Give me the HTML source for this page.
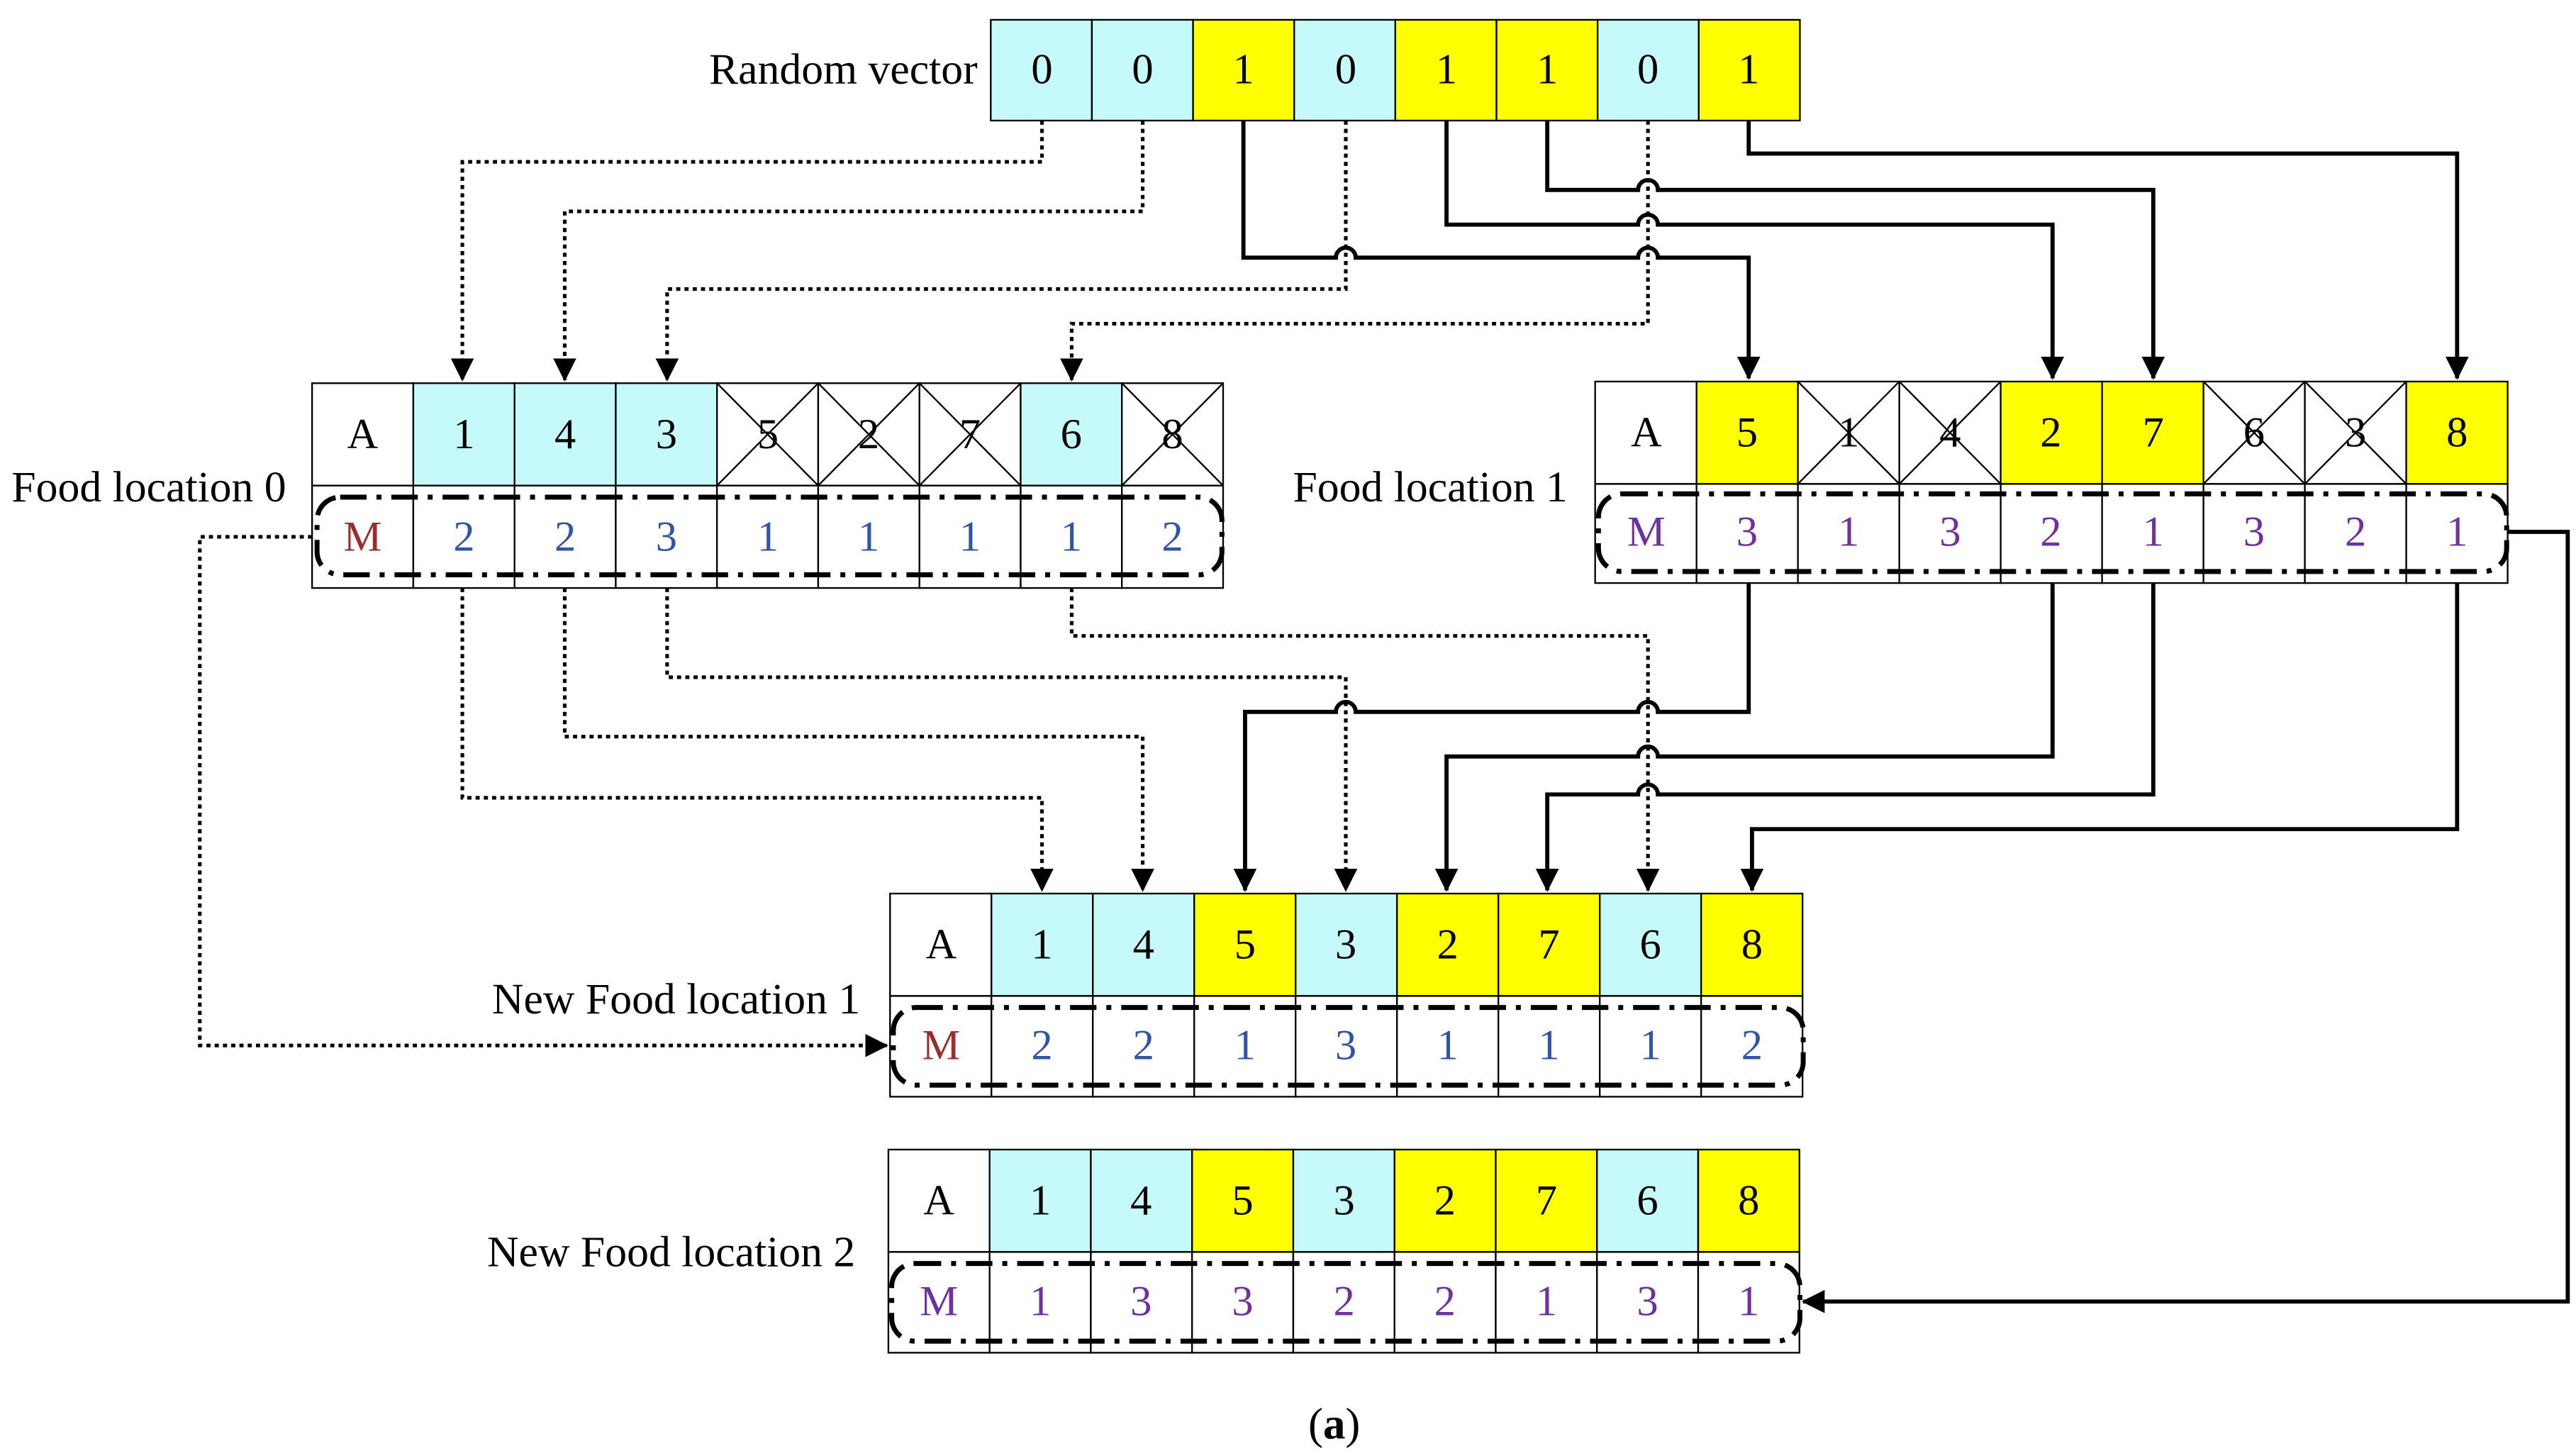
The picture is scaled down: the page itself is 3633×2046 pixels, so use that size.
<!DOCTYPE html>
<html><head><meta charset="utf-8"><style>html,body{margin:0;padding:0;background:#fff}svg{display:block}</style></head><body>
<svg width="3633" height="2046" viewBox="0 0 1560 878.5" preserveAspectRatio="none" xmlns="http://www.w3.org/2000/svg" font-family="Liberation Serif, serif">
<defs>
<marker id="ar" markerUnits="userSpaceOnUse" markerWidth="14" markerHeight="16" refX="13" refY="7" orient="auto"><path d="M0,0 L14,7 L0,14 Z" fill="#000"/></marker>
</defs>
<g stroke="#000" stroke-width="1">
<rect x="600" y="12" width="61.25" height="61" fill="#c6f9f9"/>
<rect x="661.25" y="12" width="61.25" height="61" fill="#c6f9f9"/>
<rect x="722.5" y="12" width="61.25" height="61" fill="#ffff00"/>
<rect x="783.75" y="12" width="61.25" height="61" fill="#c6f9f9"/>
<rect x="845" y="12" width="61.25" height="61" fill="#ffff00"/>
<rect x="906.25" y="12" width="61.25" height="61" fill="#ffff00"/>
<rect x="967.5" y="12" width="61.25" height="61" fill="#c6f9f9"/>
<rect x="1028.75" y="12" width="61.25" height="61" fill="#ffff00"/>
<rect x="189" y="232" width="61.3" height="62" fill="#fff"/>
<rect x="250.3" y="232" width="61.3" height="62" fill="#c6f9f9"/>
<rect x="311.6" y="232" width="61.3" height="62" fill="#c6f9f9"/>
<rect x="372.9" y="232" width="61.3" height="62" fill="#c6f9f9"/>
<rect x="434.2" y="232" width="61.3" height="62" fill="#fff"/>
<rect x="495.5" y="232" width="61.3" height="62" fill="#fff"/>
<rect x="556.8" y="232" width="61.3" height="62" fill="#fff"/>
<rect x="618.1" y="232" width="61.3" height="62" fill="#c6f9f9"/>
<rect x="679.4" y="232" width="61.3" height="62" fill="#fff"/>
<path d="M434.2,232 L495.5,294 M495.5,232 L434.2,294 M495.5,232 L556.8,294 M556.8,232 L495.5,294 M556.8,232 L618.1,294 M618.1,232 L556.8,294 M679.4,232 L740.7,294 M740.7,232 L679.4,294"/>
<rect x="189" y="294" width="61.3" height="62" fill="#fff"/>
<rect x="250.3" y="294" width="61.3" height="62" fill="#fff"/>
<rect x="311.6" y="294" width="61.3" height="62" fill="#fff"/>
<rect x="372.9" y="294" width="61.3" height="62" fill="#fff"/>
<rect x="434.2" y="294" width="61.3" height="62" fill="#fff"/>
<rect x="495.5" y="294" width="61.3" height="62" fill="#fff"/>
<rect x="556.8" y="294" width="61.3" height="62" fill="#fff"/>
<rect x="618.1" y="294" width="61.3" height="62" fill="#fff"/>
<rect x="679.4" y="294" width="61.3" height="62" fill="#fff"/>
<rect x="966" y="231" width="61.4" height="62" fill="#fff"/>
<rect x="1027.4" y="231" width="61.4" height="62" fill="#ffff00"/>
<rect x="1088.8" y="231" width="61.4" height="62" fill="#fff"/>
<rect x="1150.2" y="231" width="61.4" height="62" fill="#fff"/>
<rect x="1211.6" y="231" width="61.4" height="62" fill="#ffff00"/>
<rect x="1273" y="231" width="61.4" height="62" fill="#ffff00"/>
<rect x="1334.4" y="231" width="61.4" height="62" fill="#fff"/>
<rect x="1395.8" y="231" width="61.4" height="62" fill="#fff"/>
<rect x="1457.2" y="231" width="61.4" height="62" fill="#ffff00"/>
<path d="M1088.8,231 L1150.2,293 M1150.2,231 L1088.8,293 M1150.2,231 L1211.6,293 M1211.6,231 L1150.2,293 M1334.4,231 L1395.8,293 M1395.8,231 L1334.4,293 M1395.8,231 L1457.2,293 M1457.2,231 L1395.8,293"/>
<rect x="966" y="293" width="61.4" height="60" fill="#fff"/>
<rect x="1027.4" y="293" width="61.4" height="60" fill="#fff"/>
<rect x="1088.8" y="293" width="61.4" height="60" fill="#fff"/>
<rect x="1150.2" y="293" width="61.4" height="60" fill="#fff"/>
<rect x="1211.6" y="293" width="61.4" height="60" fill="#fff"/>
<rect x="1273" y="293" width="61.4" height="60" fill="#fff"/>
<rect x="1334.4" y="293" width="61.4" height="60" fill="#fff"/>
<rect x="1395.8" y="293" width="61.4" height="60" fill="#fff"/>
<rect x="1457.2" y="293" width="61.4" height="60" fill="#fff"/>
<rect x="539" y="541" width="61.4" height="62" fill="#fff"/>
<rect x="600.4" y="541" width="61.4" height="62" fill="#c6f9f9"/>
<rect x="661.8" y="541" width="61.4" height="62" fill="#c6f9f9"/>
<rect x="723.2" y="541" width="61.4" height="62" fill="#ffff00"/>
<rect x="784.6" y="541" width="61.4" height="62" fill="#c6f9f9"/>
<rect x="846" y="541" width="61.4" height="62" fill="#ffff00"/>
<rect x="907.4" y="541" width="61.4" height="62" fill="#ffff00"/>
<rect x="968.8" y="541" width="61.4" height="62" fill="#c6f9f9"/>
<rect x="1030.2" y="541" width="61.4" height="62" fill="#ffff00"/>
<rect x="539" y="603" width="61.4" height="61" fill="#fff"/>
<rect x="600.4" y="603" width="61.4" height="61" fill="#fff"/>
<rect x="661.8" y="603" width="61.4" height="61" fill="#fff"/>
<rect x="723.2" y="603" width="61.4" height="61" fill="#fff"/>
<rect x="784.6" y="603" width="61.4" height="61" fill="#fff"/>
<rect x="846" y="603" width="61.4" height="61" fill="#fff"/>
<rect x="907.4" y="603" width="61.4" height="61" fill="#fff"/>
<rect x="968.8" y="603" width="61.4" height="61" fill="#fff"/>
<rect x="1030.2" y="603" width="61.4" height="61" fill="#fff"/>
<rect x="538" y="696" width="61.3" height="62" fill="#fff"/>
<rect x="599.3" y="696" width="61.3" height="62" fill="#c6f9f9"/>
<rect x="660.6" y="696" width="61.3" height="62" fill="#c6f9f9"/>
<rect x="721.9" y="696" width="61.3" height="62" fill="#ffff00"/>
<rect x="783.2" y="696" width="61.3" height="62" fill="#c6f9f9"/>
<rect x="844.5" y="696" width="61.3" height="62" fill="#ffff00"/>
<rect x="905.8" y="696" width="61.3" height="62" fill="#ffff00"/>
<rect x="967.1" y="696" width="61.3" height="62" fill="#c6f9f9"/>
<rect x="1028.4" y="696" width="61.3" height="62" fill="#ffff00"/>
<rect x="538" y="758" width="61.3" height="61" fill="#fff"/>
<rect x="599.3" y="758" width="61.3" height="61" fill="#fff"/>
<rect x="660.6" y="758" width="61.3" height="61" fill="#fff"/>
<rect x="721.9" y="758" width="61.3" height="61" fill="#fff"/>
<rect x="783.2" y="758" width="61.3" height="61" fill="#fff"/>
<rect x="844.5" y="758" width="61.3" height="61" fill="#fff"/>
<rect x="905.8" y="758" width="61.3" height="61" fill="#fff"/>
<rect x="967.1" y="758" width="61.3" height="61" fill="#fff"/>
<rect x="1028.4" y="758" width="61.3" height="61" fill="#fff"/>
</g>
<g fill="none" stroke="#000" stroke-width="3" stroke-dasharray="16 6 3 6">
<rect x="192" y="301" width="548" height="47" rx="14"/>
<rect x="968" y="299" width="550" height="47" rx="14"/>
<rect x="541" y="610" width="551" height="47" rx="14"/>
<rect x="540" y="765" width="550" height="47" rx="14"/>
</g>
<g font-size="26" text-anchor="middle" dominant-baseline="central" fill="#000">
<text x="631" y="42">0</text><text x="692" y="42">0</text><text x="753" y="42">1</text><text x="815" y="42">0</text><text x="876" y="42">1</text><text x="937" y="42">1</text><text x="998" y="42">0</text><text x="1059" y="42">1</text>
<text x="219.6" y="263">A</text><text x="281" y="263">1</text><text x="342.3" y="263">4</text><text x="403.6" y="263">3</text><text x="465" y="263">5</text><text x="526" y="263">2</text><text x="587.4" y="263">7</text><text x="648.7" y="263">6</text><text x="710" y="263">8</text>
<text x="997" y="262">A</text><text x="1058" y="262">5</text><text x="1119.5" y="262">1</text><text x="1181" y="262">4</text><text x="1242" y="262">2</text><text x="1304" y="262">7</text><text x="1365" y="262">6</text><text x="1426.5" y="262">3</text><text x="1488" y="262">8</text>
<text x="570" y="572">A</text><text x="631" y="572">1</text><text x="692.5" y="572">4</text><text x="754" y="572">5</text><text x="815" y="572">3</text><text x="876.7" y="572">2</text><text x="938" y="572">7</text><text x="999.5" y="572">6</text><text x="1061" y="572">8</text>
<text x="568.6" y="727">A</text><text x="630" y="727">1</text><text x="691" y="727">4</text><text x="752.5" y="727">5</text><text x="814" y="727">3</text><text x="875" y="727">2</text><text x="936.5" y="727">7</text><text x="997.7" y="727">6</text><text x="1059" y="727">8</text>
<g fill="#2f55a4">
<text x="219.6" y="325" fill="#9b2d2d">M</text><text x="281" y="325">2</text><text x="342.3" y="325">2</text><text x="403.6" y="325">3</text><text x="465" y="325">1</text><text x="526" y="325">1</text><text x="587.4" y="325">1</text><text x="648.7" y="325">1</text><text x="710" y="325">2</text>
<text x="570" y="633" fill="#9b2d2d">M</text><text x="631" y="633">2</text><text x="692.5" y="633">2</text><text x="754" y="633">1</text><text x="815" y="633">3</text><text x="876.7" y="633">1</text><text x="938" y="633">1</text><text x="999.5" y="633">1</text><text x="1061" y="633">2</text>
</g>
<g fill="#7030a0">
<text x="997" y="322">M</text><text x="1058" y="322">3</text><text x="1119.5" y="322">1</text><text x="1181" y="322">3</text><text x="1242" y="322">2</text><text x="1304" y="322">1</text><text x="1365" y="322">3</text><text x="1426.5" y="322">2</text><text x="1488" y="322">1</text>
<text x="568.6" y="788">M</text><text x="630" y="788">1</text><text x="691" y="788">3</text><text x="752.5" y="788">3</text><text x="814" y="788">2</text><text x="875" y="788">2</text><text x="936.5" y="788">1</text><text x="997.7" y="788">3</text><text x="1059" y="788">1</text>
</g>
</g>
<g font-size="26.5" fill="#000" dominant-baseline="central">
<text x="592" y="42" text-anchor="end">Random vector</text>
<text x="7" y="295">Food location 0</text>
<text x="783" y="295">Food location 1</text>
<text x="298" y="605">New Food location 1</text>
<text x="295" y="758">New Food location 2</text>
<text x="808" y="862" text-anchor="middle" font-size="27">(<tspan font-weight="bold">a</tspan>)</text>
</g>
<g fill="none" stroke="#000" stroke-width="2.2" stroke-dasharray="2.5 2.5">
<path d="M631,73 V98 H280 V230" marker-end="url(#ar)"/>
<path d="M692,73 V128 H342 V230" marker-end="url(#ar)"/>
<path d="M815,73 V175 H404 V230" marker-end="url(#ar)"/>
<path d="M998,73 V196 H649 V230" marker-end="url(#ar)"/>
<path d="M280,356 V483 H631 V539" marker-end="url(#ar)"/>
<path d="M342,356 V446 H692 V539" marker-end="url(#ar)"/>
<path d="M404,356 V410 H815 V539" marker-end="url(#ar)"/>
<path d="M649,356 V385 H998 V539" marker-end="url(#ar)"/>
<path d="M189,325 H121 V633 H537" marker-end="url(#ar)"/>
</g>
<g fill="none" stroke="#000" stroke-width="2.5">
<path d="M753,73 V156 H809 A6,6 0 0 1 821,156 H992 A6,6 0 0 1 1004,156 H1059 V229" marker-end="url(#ar)"/>
<path d="M876,73 V136 H992 A6,6 0 0 1 1004,136 H1243 V229" marker-end="url(#ar)"/>
<path d="M937,73 V115 H992 A6,6 0 0 1 1004,115 H1304 V229" marker-end="url(#ar)"/>
<path d="M1059,73 V93 H1488 V229" marker-end="url(#ar)"/>
<path d="M1059,353 V431 H1004 A6,6 0 0 0 992,431 H821 A6,6 0 0 0 809,431 H754 V539" marker-end="url(#ar)"/>
<path d="M1243,353 V458 H1004 A6,6 0 0 0 992,458 H876 V539" marker-end="url(#ar)"/>
<path d="M1304,353 V481 H1004 A6,6 0 0 0 992,481 H937 V539" marker-end="url(#ar)"/>
<path d="M1488,353 V502 H1061 V539" marker-end="url(#ar)"/>
<path d="M1519,322 H1555 V788 H1092" marker-end="url(#ar)"/>
</g>
</svg>
</body></html>
